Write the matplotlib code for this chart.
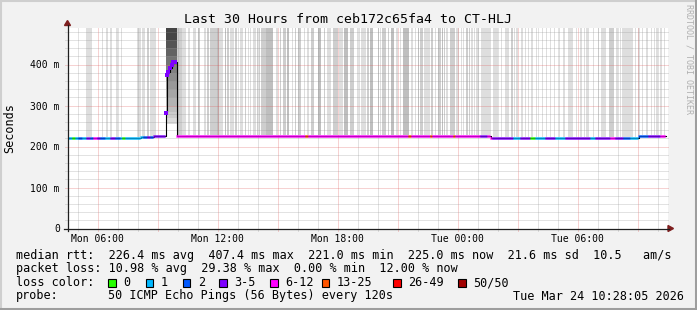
import numpy as np
import matplotlib
matplotlib.use("Agg")
import matplotlib.pyplot as plt
from matplotlib.collections import LineCollection
from matplotlib.patches import Rectangle, Polygon

# ---------------- data ----------------
title = "Last 30 Hours from ceb172c65fa4 to CT-HLJ"
x_ticks_h = [6, 12, 18, 24, 30]                       # hours since Mon 00:00
x_tick_labels = ["Mon 06:00", "Mon 12:00", "Mon 18:00", "Tue 00:00", "Tue 06:00"]
y_ticks_ms = [0, 100, 200, 300, 400]
y_tick_labels = ["0", "100 m", "200 m", "300 m", "400 m"]
t_start, t_end = 4.5, 34.5
y_top = 488.5
line_end = 34.4

# median rtt (ms), step function: value holds from time until next time
median_t = [4.5, 8.15, 8.8, 9.95, 25.65, 33.05]
median_ms = [220.0, 222.0, 225.0, 225.5, 221.0, 225.0]
# spike period (median points)
spike_t = [9.40, 9.45, 9.53, 9.62, 9.70, 9.78, 9.86]
spike_ms = [281, 374, 381, 392, 400, 405, 406]
spike_end = 9.95

# packet loss class along time (start hour, class)
loss_t = [4.5, 4.75, 4.9, 5.05, 5.25, 5.45, 5.65, 5.8, 6.0, 6.15,
          6.4, 6.65, 6.9, 7.15, 7.25, 7.4, 8.3, 8.5, 8.65, 8.8,
          9.95, 16.4, 16.55, 21.55, 21.7, 22.65, 22.75, 23.8, 23.9, 25.15,
          25.5, 25.75, 26.8, 27.15, 27.65, 27.9, 28.4, 28.9, 29.4, 30.65,
          30.9, 31.65, 31.9, 32.3, 32.65, 33.05, 33.55, 34.15]
loss_class = [1, 0, 1, 2, 1, 3, 2, 6, 3, 2,
              1, 3, 2, 1, 0, 1, 2, 3, 2, 3,
              6, 13, 6, 13, 6, 13, 6, 13, 6, 3,
              6, 3, 1, 3, 0, 1, 3, 1, 3, 1,
              3, 6, 3, 2, 1, 2, 3, 6]

# smoke bands (start hour, end hour, density level 1=light 2=medium 3=dark)
smoke_start = [5.44, 6.20, 6.40, 6.60, 6.90, 7.15, 7.99, 8.24, 8.49, 8.60,
               9.99, 10.20, 10.50, 10.75, 11.00, 11.15, 11.30, 11.45, 11.60, 11.95,
               12.05, 12.35, 12.45, 12.60, 12.85, 13.10, 13.60, 13.75, 13.95, 14.15,
               14.40, 14.90, 15.25, 15.45, 16.00, 16.45, 16.65, 17.00, 17.45, 17.75,
               18.05, 18.30, 18.60, 18.95, 19.15, 19.45, 19.60, 19.85, 20.20, 20.65,
               20.90, 21.25, 21.65, 21.85, 22.10, 22.30, 22.65, 23.00, 23.20, 23.40,
               23.60, 23.90, 24.25, 24.40, 24.65, 24.90, 25.20, 25.75, 26.35, 26.65,
               26.80, 26.90, 27.15, 27.65, 28.20, 28.80, 29.25, 29.50, 30.10, 30.40,
               31.00, 31.15, 31.55, 31.90, 32.20, 33.00, 33.20, 33.40, 33.90, 34.10,
               13.35, 13.50, 14.05, 15.10, 15.70, 15.85, 16.30, 17.30, 19.05, 20.00,
               20.10, 20.50, 21.10, 22.00, 22.85, 23.30, 24.15, 24.55, 24.80, 25.15,
               26.15, 27.35, 27.50, 27.90, 28.40, 28.60, 29.05, 29.90, 30.30, 30.75,
               32.10, 32.85, 33.65, 33.80, 34.30]
smoke_end = [5.74, 6.27, 6.55, 6.74, 7.00, 7.20, 8.15, 8.37, 8.55, 8.90,
             10.20, 10.40, 10.60, 10.90, 11.10, 11.20, 11.40, 11.55, 11.95, 12.05,
             12.25, 12.40, 12.55, 12.80, 12.95, 13.25, 13.65, 13.90, 14.00, 14.40,
             14.75, 15.00, 15.40, 15.55, 16.15, 16.55, 16.80, 17.15, 17.65, 18.00,
             18.25, 18.50, 18.80, 19.00, 19.40, 19.55, 19.75, 19.90, 20.40, 20.80,
             21.00, 21.55, 21.75, 21.95, 22.25, 22.60, 22.75, 23.15, 23.25, 23.50,
             23.85, 24.05, 24.30, 24.50, 24.75, 25.05, 25.65, 26.00, 26.55, 26.75,
             26.85, 27.00, 27.25, 27.75, 28.25, 28.85, 29.35, 29.75, 30.20, 30.55,
             31.05, 31.40, 31.80, 32.00, 32.75, 33.10, 33.30, 33.50, 34.00, 34.20,
             13.41, 13.56, 14.11, 15.16, 15.76, 15.91, 16.36, 17.36, 19.11, 20.06,
             20.16, 20.56, 21.16, 22.06, 22.91, 23.36, 24.21, 24.61, 24.86, 25.21,
             26.21, 27.41, 27.56, 27.96, 28.46, 28.66, 29.11, 29.96, 30.36, 30.81,
             32.16, 32.91, 33.71, 33.86, 34.36]
smoke_level = [1, 1, 1, 1, 1, 1, 1, 1, 2, 1,
               2, 1, 1, 1, 2, 2, 1, 2, 2, 3,
               1, 3, 2, 1, 2, 1, 1, 1, 2, 2,
               3, 1, 2, 3, 2, 1, 2, 3, 1, 2,
               1, 3, 2, 1, 1, 2, 3, 1, 2, 3,
               1, 3, 1, 1, 2, 1, 2, 2, 3, 1,
               2, 1, 1, 2, 1, 1, 1, 1, 1, 2,
               1, 1, 1, 1, 1, 1, 1, 1, 1, 1,
               1, 1, 2, 1, 1, 1, 1, 1, 1, 1,
               2, 1, 2, 2, 1, 2, 1, 2, 1, 2,
               1, 2, 1, 2, 1, 2, 1, 2, 1, 1,
               1, 1, 1, 1, 1, 1, 1, 1, 1, 1,
               1, 1, 1, 1, 1]
# smoke during the spike: layer boundaries (ms) and darkness
spike_smoke_ms = [255, 270, 285, 300, 320, 340, 360, 380, 400, 420, 440, 460, 488.5]
spike_smoke_gray = [0.86, 0.80, 0.75, 0.70, 0.65, 0.60, 0.55, 0.50, 0.45, 0.39, 0.33, 0.27]

legend_line1 = "median rtt:  226.4 ms avg  407.4 ms max  221.0 ms min  225.0 ms now  21.6 ms sd  10.5   am/s"
legend_line2 = "packet loss: 10.98 % avg  29.38 % max  0.00 % min  12.00 % now"
loss_labels = ["0", "1", "2", "3-5", "6-12", "13-25", "26-49", "50/50"]
loss_label_class = [0, 1, 2, 3, 6, 13, 26, 50]
loss_colors = ["#26ff00", "#00b8ff", "#0059ff", "#7e00ff", "#ff00ff", "#ff5500", "#ff0000", "#a10000"]
probe_text = "50 ICMP Echo Pings (56 Bytes) every 120s"
date_text = "Tue Mar 24 10:28:05 2026"

# ---------------- figure ----------------
W, H = 697, 310
MONO = "DejaVu Sans Mono"
fig = plt.figure(figsize=(W / 100, H / 100), dpi=100, facecolor="#f2f2f2")

def fx(x):
    return x / W

def fy(y):
    return 1 - y / H

# 3D frame
fig.add_artist(plt.Line2D([fx(0.5), fx(0.5)], [fy(0), fy(H)], color="#cfcfcf", lw=1.5, transform=fig.transFigure))
fig.add_artist(plt.Line2D([fx(0), fx(W)], [fy(0.5), fy(0.5)], color="#cfcfcf", lw=1.5, transform=fig.transFigure))
fig.add_artist(plt.Line2D([fx(W - 1.5), fx(W - 1.5)], [fy(0), fy(H)], color="#9e9e9e", lw=2.2, transform=fig.transFigure))
fig.add_artist(plt.Line2D([fx(0), fx(W)], [fy(H - 1.5), fy(H - 1.5)], color="#9e9e9e", lw=2.2, transform=fig.transFigure))

ax_left, ax_bottom_px = 67.5, 228.5
ax_w, ax_h = 600, y_top * 0.41
ax = fig.add_axes([fx(ax_left), fy(ax_bottom_px), ax_w / W, ax_h / H])
ax.set_facecolor("white")
ax.set_xlim(t_start, t_end)
ax.set_ylim(0, y_top)
for s in ax.spines.values():
    s.set_visible(False)

color_of = dict(zip(loss_label_class, loss_colors))

def median_at(t):
    i = np.searchsorted(median_t, t, side="right") - 1
    return median_ms[max(i, 0)]

# smoke
shade = {1: "#dedede", 2: "#cecece", 3: "#bfbfbf"}
for a, b, lv in zip(smoke_start, smoke_end, smoke_level):
    base = median_at((a + b) / 2) + 2
    ax.bar(a, y_top - base, width=b - a, bottom=base, align="edge",
           color=shade[lv], linewidth=0, zorder=1)
for k in range(len(spike_smoke_gray)):
    g = spike_smoke_gray[k]
    ax.bar(spike_t[0], spike_smoke_ms[k + 1] - spike_smoke_ms[k], width=spike_end - spike_t[0] + 0.02,
           bottom=spike_smoke_ms[k], align="edge", color=(g, g, g), linewidth=0, zorder=1)

# grid
dot = (0, (1, 1))
minor_c = (0.56, 0.56, 0.56, 0.5)
major_c = (0.87, 0.31, 0.31, 0.5)
for h in range(int(np.ceil(t_start)), int(t_end) + 1):
    if h <= t_start:
        continue
    col = major_c if h % 3 == 0 else minor_c
    ax.plot([h, h], [-7, y_top], color=col, lw=0.72, ls=dot, zorder=2, clip_on=False)
for v in range(20, int(y_top), 20):
    col = major_c if v % 100 == 0 else minor_c
    ax.plot([t_start - 0.15, t_end], [v, v], color=col, lw=0.72, ls=dot, zorder=2, clip_on=False)

# median: black step outline
st = list(median_t[:3]) + list(spike_t) + list(median_t[3:]) + [line_end]
sv = list(median_ms[:3]) + list(spike_ms) + list(median_ms[3:]) + [median_ms[-1]]
ax.step(st, sv, where="post", color="black", lw=0.8, zorder=3)

# median: coloured by loss
edges = np.arange(t_start, line_end + 1e-9, 0.05)
segs, cols = [], []
for a, b in zip(edges[:-1], edges[1:]):
    m = (a + b) / 2
    if spike_t[0] <= m < spike_end:
        continue
    v = median_at(m)
    c = loss_class[np.searchsorted(loss_t, m, side="right") - 1]
    segs.append([(a, v), (b, v)])
    cols.append(color_of[c])
ax.add_collection(LineCollection(segs, colors=cols, linewidths=2.0, capstyle="butt", zorder=4))
ax.plot(spike_t, spike_ms, ls="none", marker="s", ms=2.6, mew=0, color=color_of[3], zorder=5)

# ticks / labels
ax.set_xticks(x_ticks_h)
ax.set_xticklabels(x_tick_labels, fontsize=7, family=MONO)
ax.set_yticks(y_ticks_ms)
ax.set_yticklabels(y_tick_labels, fontsize=7, family=MONO)
ax.tick_params(axis="x", length=0, pad=4)
ax.tick_params(axis="y", length=0, pad=5.5)

# axes lines and arrows
ax_col = "#1f1f1f"
arrow_col = "#7f1f1f"
fig.add_artist(plt.Line2D([fx(64), fx(669)], [fy(228.5), fy(228.5)], color=ax_col, lw=0.9, transform=fig.transFigure))
fig.add_artist(plt.Line2D([fx(67.5), fx(67.5)], [fy(231), fy(25)], color=ax_col, lw=0.9, transform=fig.transFigure))
fig.add_artist(Polygon([(fx(64.5), fy(25.5)), (fx(70.5), fy(25.5)), (fx(67.5), fy(20.5))], closed=True,
                       color=arrow_col, transform=fig.transFigure))
fig.add_artist(Polygon([(fx(668), fy(225.5)), (fx(668), fy(231.5)), (fx(673.5), fy(228.5))], closed=True,
                       color=arrow_col, transform=fig.transFigure))

# titles
fig.text(fx(348.5), fy(19.5), title, family=MONO, fontsize=9.55, ha="center", va="center")
fig.text(fx(10), fy(128), "Seconds", family=MONO, fontsize=8.5, rotation=90, ha="center", va="center")
fig.text(fx(688.5), fy(4), "RRDTOOL / TOBI OETIKER", family=MONO, fontsize=6, rotation=270,
         ha="center", va="top", color="#b0b0b0")

# legend
lf = 8.5
fig.text(fx(16), fy(255), legend_line1, family=MONO, fontsize=lf, ha="left", va="center")
fig.text(fx(16), fy(268.5), legend_line2, family=MONO, fontsize=lf, ha="left", va="center")
fig.text(fx(16), fy(282.5), "loss color:", family=MONO, fontsize=lf, ha="left", va="center")
box_x = [108, 145.7, 182.7, 219.3, 270, 321.7, 393.3, 458.3]
for bx, lab, c in zip(box_x, loss_labels, loss_colors):
    fig.add_artist(Rectangle((fx(bx), fy(286.5)), 7.5 / W, 7.5 / H, transform=fig.transFigure,
                             facecolor=c, edgecolor="black", lw=0.8))
    fig.text(fx(bx + 15), fy(282.5), lab, family=MONO, fontsize=lf, ha="left", va="center")
fig.text(fx(16), fy(296), "probe:", family=MONO, fontsize=lf, ha="left", va="center")
fig.text(fx(108), fy(296), probe_text, family=MONO, fontsize=lf, ha="left", va="center")
fig.text(fx(513), fy(296), date_text, family=MONO, fontsize=lf, ha="left", va="center")

fig.savefig("out.png", dpi=100, facecolor=fig.get_facecolor())
